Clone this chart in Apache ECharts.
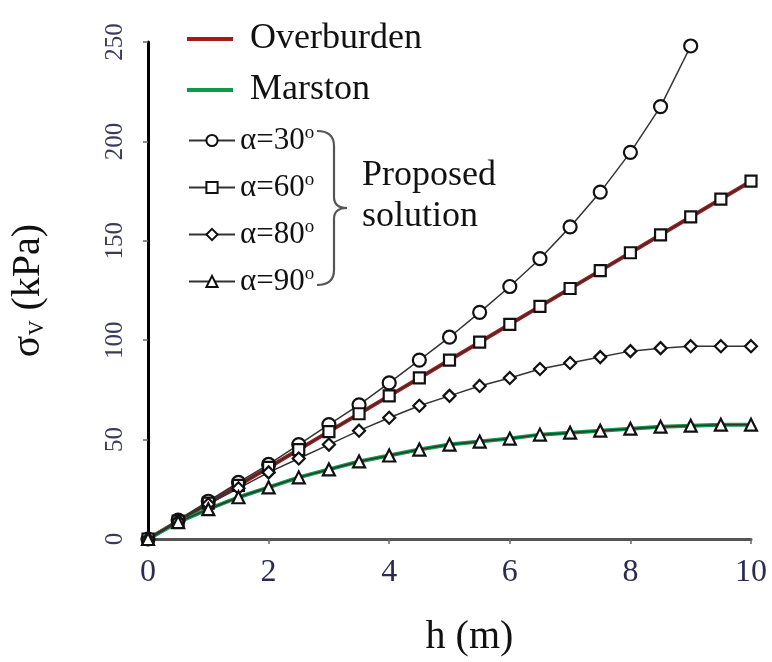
<!DOCTYPE html>
<html>
<head>
<meta charset="utf-8">
<script src="https://cdn.jsdelivr.net/npm/echarts@6/dist/echarts.min.js"></script>
<style>
html,body{margin:0;padding:0;background:#fff;}
#chart{width:772px;height:662px;}
</style>
</head>
<body>
<div id="chart"></div>
<script>
// ---- data ----
const hValues = [0,0.5,1,1.5,2,2.5,3,3.5,4,4.5,5,5.5,6,6.5,7,7.5,8,8.5,9,9.5,10];
const xTicks = [0,2,4,6,8,10];
const yTicks = [0,50,100,150,200,250];
const overburden = [0,9,18,27,36,45,54,63,72,81,90,99,108,117,126,135,144,153,162,171,180];
const marston = [0,8.5,15,21,26,31,35,39,42,45,47.5,49,50.5,52.5,53.5,54.5,55.5,56.5,57,57.5,57.5];
const alpha30 = [0,9.5,19,28.5,37.5,47.5,57.5,67.5,78.5,90,101.5,114,127,141,157,174.5,194.5,217.5,248];
const alpha60 = [0,9,18,27,36,45,54,63,72,81,90,99,108,117,126,135,144,153,162,171,180];
const alpha80 = [0,9,17.5,25.5,33.5,40.5,47.5,54.5,61,67,72,77,81,85.5,88.5,91.5,94.5,96,97,97,97];
const alpha90 = [0,8.5,15,21,26,31,35,39,42,45,47.5,49,50.5,52.5,53.5,54.5,55.5,56.5,57,57.5,57.5];
const legendMain = ['Overburden','Marston'];
const legendAlpha = ['α=30','α=60','α=80','α=90'];

const pairs = (arr) => arr.map((v,i) => [hValues[i], v]);
const FONT = "'Liberation Serif','Times New Roman',serif";

function alphaSeries(name, data, symbol, size) {
  return {
    name: name, type: 'line', data: pairs(data), z: 5,
    symbol: symbol, symbolSize: size, showSymbol: true,
    lineStyle: {color: '#333', width: 1.5},
    itemStyle: {color: '#fff', borderColor: '#111', borderWidth: 2.2},
    emphasis: {disabled: true}
  };
}

const braceStyle = {fill: 'none', stroke: '#555', lineWidth: 2.2};
const chart = echarts.init(document.getElementById('chart'));
chart.setOption({
  animation: false,
  backgroundColor: '#fff',
  grid: {left: 148, right: 21, top: 42, bottom: 120},
  xAxis: {
    type: 'value', min: 0, max: 10, interval: 2,
    name: 'h (m)', nameLocation: 'middle', nameGap: 78,
    nameTextStyle: {fontFamily: FONT, fontSize: 40, color: '#111', padding: [0,0,0,40]},
    axisLine: {lineStyle: {color: '#555', width: 3}},
    axisTick: {show: true, length: 5, lineStyle: {color: '#666', width: 1.5}},
    axisLabel: {fontFamily: FONT, fontSize: 32, color: '#2a2a55', margin: 18},
    splitLine: {show: false}
  },
  yAxis: {
    type: 'value', min: 0, max: 250, interval: 50,
    name: '{m|σ}{s|V}{m| (kPa)}', nameLocation: 'middle', nameGap: 100,
    nameTextStyle: {fontFamily: FONT, fontSize: 40, color: '#111',
      rich: {
        m: {fontFamily: FONT, fontSize: 40, color: '#111'},
        s: {fontFamily: FONT, fontSize: 21, color: '#111', verticalAlign: 'bottom'}
      }},
    axisLine: {lineStyle: {color: '#000', width: 3}},
    axisTick: {show: true, length: 5, lineStyle: {color: '#666', width: 1.5}},
    axisLabel: {fontFamily: FONT, fontSize: 25, color: '#3a3a5a', rotate: 90, margin: 20},
    splitLine: {show: false}
  },
  legend: [
    {
      data: legendMain.map(n => ({name: n, icon: 'rect'})), orient: 'vertical', left: 182, top: 15,
      itemWidth: 46, itemHeight: 4, itemGap: 13,
      textStyle: {fontFamily: FONT, fontSize: 36, color: '#111', lineHeight: 38, padding: [0,0,0,12]},
      selectedMode: false
    },
    {
      data: legendAlpha, orient: 'vertical', left: 183, top: 119,
      itemWidth: 46, itemHeight: 14, itemGap: 14,
      formatter: function (n) { return '{t|' + n + '}{s|o}'; },
      textStyle: {fontFamily: FONT, fontSize: 31, color: '#111', lineHeight: 33,
        rich: {
          t: {fontFamily: FONT, fontSize: 31, color: '#111'},
          s: {fontFamily: FONT, fontSize: 19, color: '#111', verticalAlign: 'top'}
        }},
      selectedMode: false
    }
  ],
  graphic: [
    {type: 'bezierCurve', silent: true, shape: {x1: 317, y1: 131, x2: 334, y2: 146, cpx1: 334, cpy1: 131}, style: braceStyle},
    {type: 'line', silent: true, shape: {x1: 334, y1: 146, x2: 334, y2: 197}, style: braceStyle},
    {type: 'bezierCurve', silent: true, shape: {x1: 334, y1: 197, x2: 347, y2: 208, cpx1: 334, cpy1: 208}, style: braceStyle},
    {type: 'bezierCurve', silent: true, shape: {x1: 347, y1: 208, x2: 334, y2: 219, cpx1: 334, cpy1: 208}, style: braceStyle},
    {type: 'line', silent: true, shape: {x1: 334, y1: 219, x2: 334, y2: 270}, style: braceStyle},
    {type: 'bezierCurve', silent: true, shape: {x1: 334, y1: 270, x2: 317, y2: 285, cpx1: 334, cpy1: 285}, style: braceStyle},
    {
      type: 'text', left: 362, top: 155, silent: true,
      style: {text: 'Proposed\nsolution', font: "36px 'Liberation Serif','Times New Roman',serif", fill: '#111', lineHeight: 41}
    }
  ],
  series: [
    {
      name: 'Overburden', type: 'line', data: pairs(overburden), z: 2,
      symbol: 'none', lineStyle: {color: '#a81818', width: 4}, itemStyle: {color: '#a81818'},
      emphasis: {disabled: true}
    },
    {
      name: 'Marston', type: 'line', data: pairs(marston), z: 2,
      symbol: 'none', lineStyle: {color: '#0e9a4a', width: 4}, itemStyle: {color: '#0e9a4a'},
      emphasis: {disabled: true}
    },
    alphaSeries('α=30', alpha30, 'circle', 13),
    alphaSeries('α=60', alpha60, 'rect', 11),
    alphaSeries('α=80', alpha80, 'diamond', 12),
    alphaSeries('α=90', alpha90, 'triangle', 12)
  ]
});
</script>
</body>
</html>
